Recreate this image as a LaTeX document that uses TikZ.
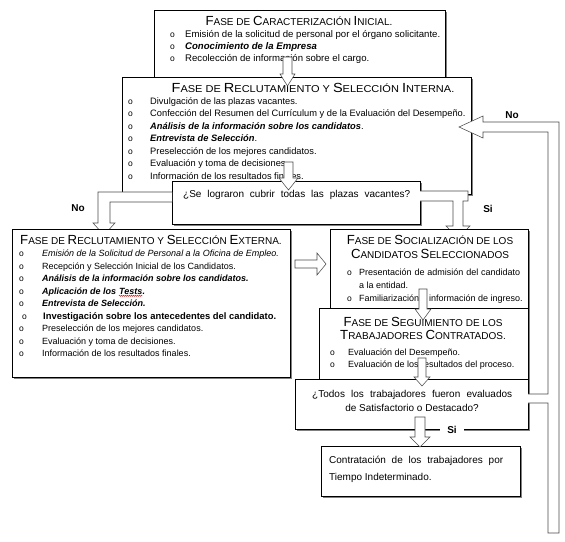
\documentclass[tikz,border=0pt]{standalone}
\usepackage{fontspec}
\setmainfont{Liberation Sans}
\usetikzlibrary{shadows,decorations.pathmorphing}
\newcommand\Bg[1]{{\fontsize{13.2}{15}\selectfont #1}}
\newcommand\Sm[1]{{\fontsize{10}{12}\selectfont #1}}
\newcommand\Itm[5]{\node[bul] (#1o) at (#2,#4) {o}; \node[itm] (#1) at (#3,#4) {#5};}
\begin{document}
\begin{tikzpicture}[x=1pt,y=-1pt,
  box/.style={draw=black, line width=0.7pt, fill=white, anchor=north west, inner sep=0pt,
    drop shadow={shadow xshift=1.3pt, shadow yshift=-1.3pt, fill=black!50, opacity=1}},
  blk/.style={draw=black!70, line width=0.55pt, fill=white, line join=miter},
  itm/.style={anchor=base west, inner sep=0pt, font=\fontsize{9}{11}\selectfont},
  bul/.style={anchor=base west, inner sep=0pt, font=\fontsize{8.5}{10}\selectfont},
  ttl/.style={anchor=base, inner sep=0pt},
  qtxt/.style={anchor=base west, inner sep=0pt, font=\fontsize{10}{12}\selectfont},
  lbl/.style={anchor=base, inner sep=0pt, font=\bfseries\fontsize{10}{12}\selectfont},
  squig/.style={draw=red!80!black, line width=0.4pt, decorate, decoration={zigzag, amplitude=0.6pt, segment length=2pt}}]
\useasboundingbox (0,0) rectangle (565,541);
\fill[white] (0,0) rectangle (565,541);
% Box 1
\node[box, minimum width=291pt, minimum height=72pt] (b1) at (154,10) {};
\node[ttl] (b1t) at (299,25) {\Bg{F}\Sm{ASE DE }\Bg{C}\Sm{ARACTERIZACIÓN }\Bg{I}\Sm{NICIAL.}};
\Itm{b1a}{170}{185}{37.5}{\fontsize{9.6}{11}\selectfont Emisión de la solicitud de personal por el órgano solicitante.}
\Itm{b1b}{170}{185}{49.5}{\fontsize{9.6}{11}\selectfont\textbf{\textit{Conocimiento de la Empresa}}}
\Itm{b1c}{170}{185}{61}{\fontsize{9.6}{11}\selectfont Recolección de información sobre el cargo.}
% Box 2
\node[box, minimum width=349pt, minimum height=117pt] (b2) at (122,77) {};
\node[ttl, xscale=1.1] (b2t) at (313,92) {\Bg{F}\Sm{ASE DE }\Bg{R}\Sm{ECLUTAMIENTO Y }\Bg{S}\Sm{ELECCIÓN }\Bg{I}\Sm{NTERNA.}};
\Itm{b2a}{128}{150}{104}{\fontsize{9.3}{11}\selectfont Divulgación de las plazas vacantes.}
\Itm{b2b}{128}{150}{116.5}{\fontsize{9.3}{11}\selectfont Confección del Resumen del Currículum y de la Evaluación del Desempeño.}
\Itm{b2c}{128}{150}{129}{\fontsize{9.3}{11}\selectfont\textbf{\textit{Análisis de la información sobre los candidatos}}.}
\Itm{b2d}{128}{150}{141.5}{\fontsize{9.3}{11}\selectfont\textbf{\textit{Entrevista de Selección}}.}
\Itm{b2e}{128}{150}{154}{\fontsize{9.3}{11}\selectfont Preselección de los mejores candidatos.}
\Itm{b2f}{128}{150}{166.5}{\fontsize{9.3}{11}\selectfont Evaluación y toma de decisiones.}
\Itm{b2g}{128}{150}{179}{\fontsize{9.3}{11}\selectfont Información de los resultados finales.}
% arrow box1 -> box2
\draw[blk] (283,57) -- (283,74) -- (280,74) -- (287.5,86) -- (295,74) -- (292,74) -- (292,57) -- cycle;
% Decision 1
\node[box, minimum width=248pt, minimum height=43pt] (d1) at (172,181) {};
\node[qtxt] (d1t) at (183,197) {\makebox[227pt][s]{¿Se lograron cubrir todas las plazas vacantes?}};
% arrow box2 -> d1
\draw[blk] (284,162) -- (284,178) -- (279,178) -- (288.5,190) -- (298,178) -- (293,178) -- (293,162) -- cycle;
% branches
\draw[blk] (172,192) -- (98,192) -- (98,223) -- (93,223) -- (104,235) -- (115,223) -- (110,223) -- (110,202) -- (172,202);
\draw[blk] (420,191) -- (468,191) -- (468,201) -- (463,201) -- (463,226) -- (470,226) -- (458,238) -- (446,226) -- (453,226) -- (453,201) -- (420,201);
\node[lbl] (no1) at (78,211) {No};
\node[lbl] (si1) at (488,212) {Si};
% Box 3
\node[box, minimum width=278pt, minimum height=148pt] (b3) at (12,229) {};
\node[ttl, anchor=base west] (b3t) at (20,244) {\Bg{F}\Sm{ASE DE }\Bg{R}\Sm{ECLUTAMIENTO Y }\Bg{S}\Sm{ELECCIÓN }\Bg{E}\Sm{XTERNA.}};
\Itm{b3a}{19}{42}{256.5}{\textit{Emisión de la Solicitud de Personal a la Oficina de Empleo.}}
\Itm{b3b}{19}{42}{269}{Recepción y Selección Inicial de los Candidatos.}
\Itm{b3c}{19}{42}{281.5}{\textbf{\textit{Análisis de la información sobre los candidatos.}}}
\Itm{b3d}{19}{42}{294}{\textbf{\textit{Aplicación de los}}}
\node[itm] (b3dT) at ([xshift=2.5pt]b3d.base east) {\textbf{\textit{Tests}}};
\node[itm] (b3dP) at (b3dT.base east) {\textbf{\textit{.}}};
\draw[squig] ([yshift=-1.8pt]b3dT.base west) -- ([yshift=-1.8pt]b3dT.base east);
\Itm{b3e}{19}{42}{306.5}{\textbf{\textit{Entrevista de Selección.}}}
\Itm{b3f}{22}{43}{319}{\fontsize{9.4}{11}\selectfont\textbf{Investigación sobre los antecedentes del candidato.}}
\Itm{b3g}{19}{42}{331.5}{Preselección de los mejores candidatos.}
\Itm{b3h}{19}{42}{344}{Evaluación y toma de decisiones.}
\Itm{b3i}{19}{42}{356.5}{Información de los resultados finales.}
% Box 4
\node[box, minimum width=198pt, minimum height=81pt] (b4) at (330,229) {};
\node[ttl] (b4t1) at (430,244) {\Bg{F}\Sm{ASE DE }\Bg{S}\Sm{OCIALIZACIÓN DE LOS}};
\node[ttl] (b4t2) at (430,258) {\Bg{C}\Sm{ANDIDATOS }\Bg{S}\Sm{ELECCIONADOS}};
\Itm{b4a}{347}{359}{275}{\makebox[161pt][s]{Presentación de admisión del candidato}}
\node[itm] (b4a2) at (359,288) {a la entidad.};
\Itm{b4b}{347}{359}{301}{Familiarización e información de ingreso.}
% arrow box3 -> box4
\draw[blk] (295,260) -- (317,260) -- (317,253) -- (326,264) -- (317,275) -- (317,268) -- (295,268) -- cycle;
% Box 5
\node[box, minimum width=209pt, minimum height=71pt] (b5) at (319,308) {};
\node[ttl] (b5t1) at (423,326) {\Bg{F}\Sm{ASE DE }\Bg{S}\Sm{EGUIMIENTO DE LOS}};
\node[ttl] (b5t2) at (423,339) {\Bg{T}\Sm{RABAJADORES }\Bg{C}\Sm{ONTRATADOS.}};
\Itm{b5a}{330}{348}{355}{Evaluación del Desempeño.}
\Itm{b5b}{330}{348}{367}{Evaluación de los resultados del proceso.}
% arrow box4 -> box5
\draw[blk] (419,289) -- (419,309) -- (415,309) -- (423,320) -- (431,309) -- (427,309) -- (427,289) -- cycle;
% Decision 2
\node[box, minimum width=233pt, minimum height=50pt] (d2) at (295,379) {};
\node[qtxt] (d2t1) at (312,397) {\makebox[200pt][s]{¿Todos los trabajadores fueron evaluados}};
\node[ttl, font=\fontsize{10}{12}\selectfont] (d2t2) at (412,411) {de Satisfactorio o Destacado?};
% arrow box5 -> d2
\draw[blk] (418,358) -- (418,377) -- (414,377) -- (422,386) -- (430,377) -- (426,377) -- (426,358) -- cycle;
% Box 6
\node[box, minimum width=199pt, minimum height=50pt] (b6) at (321,446) {};
\node[qtxt] (b6t1) at (329,463) {\makebox[174pt][s]{Contratación de los trabajadores por}};
\node[qtxt] (b6t2) at (329,480) {Tiempo Indeterminado.};
% arrow d2 -> box6
\draw[blk] (415,417) -- (415,437) -- (410,437) -- (420,447) -- (430,437) -- (425,437) -- (425,417) -- cycle;
\node[lbl, fill=white, inner xsep=7pt, inner ysep=1pt, anchor=center] (si2) at (452,430) {Si};
% pipe back to box 2
\draw[blk] (528,394) -- (548,394) -- (548,132) -- (483,132) -- (483,138) -- (459,127) -- (483,116) -- (483,122) -- (559,122) -- (559,533) -- (548,533) -- (548,403) -- (528,403);
\node[lbl] (no2) at (512,118) {No};
\end{tikzpicture}
\end{document}
